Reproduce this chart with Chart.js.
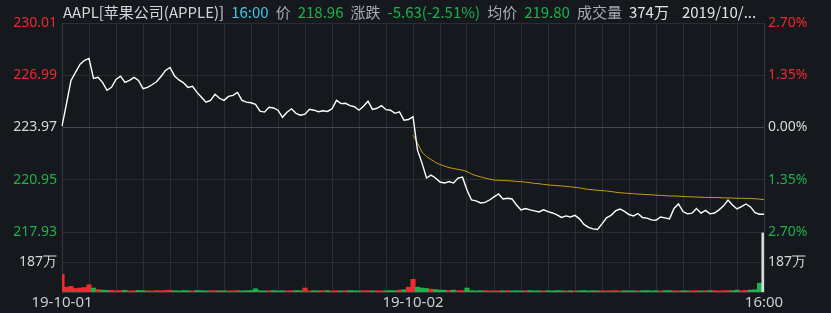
<!DOCTYPE html>
<html>
<head>
<meta charset="utf-8">
<script src="https://cdn.jsdelivr.net/npm/chart.js@4/dist/chart.umd.min.js"></script>
<style>
  html, body { margin: 0; padding: 0; background: #15181d; }
  #wrap { position: relative; width: 831px; height: 313px; }
  #head {
    position: absolute; left: 63px; top: 2px; white-space: nowrap;
    font: 15px "Noto Sans CJK SC", "Noto Sans", sans-serif; line-height: 19px; color: #d2d6da;
  }
  #head span { margin-right: 7px; }
  .g { color: #1db24a; }
  .c { color: #45c6e8; }
  .t { color: #a9adb2; }
  .w { color: #e2e4e6; }
</style>
</head>
<body>
<div id="wrap">
  <canvas id="chart" width="831" height="313"></canvas>
  <div id="head">
    <span>AAPL[苹果公司(APPLE)]</span><span class="c">16:00</span><span class="t">价</span><span class="g">218.96</span><span class="t">涨跌</span><span class="g">-5.63(-2.51%)</span><span class="t">均价</span><span class="g">219.80</span><span class="t">成交量</span><span class="w">374万</span><span class="w" style="margin-left:6px">2019/10/...</span>
  </div>
</div>
<script>
// 昨收与刻度
const prevClose = 223.97;
const priceTicks = [217.93, 220.95, 223.97, 226.99, 230.01];
const volTicks = [187];
const volMax = 374;
const xTickSlots = [0, 78, 156];
const xTickLabels = ["19-10-01", "19-10-02", "16:00"];

// 5分钟一个点，两个交易日
const price = [
  224.05, 225.35, 226.69, 227.16, 227.62, 227.85, 227.96, 226.81, 226.87, 226.58,
  226.12, 226.29, 226.75, 226.94, 226.58, 226.69, 226.87, 226.69, 226.22, 226.29,
  226.44, 226.61, 226.92, 227.27, 227.44, 226.95, 226.72, 226.55, 226.29, 226.35,
  226.00, 225.72, 225.43, 225.54, 225.89, 225.66, 225.54, 225.77, 225.83, 226.00,
  225.54, 225.44, 225.40, 225.31, 224.91, 224.86, 225.14, 225.10, 224.97, 224.56,
  224.85, 225.05, 224.79, 224.68, 224.74, 225.02, 224.97, 224.88, 224.94, 224.90,
  225.05, 225.54, 225.35, 225.37, 225.23, 225.17, 224.97, 225.20, 225.49, 225.02,
  225.08, 225.23, 225.00, 224.97, 224.79, 224.87, 224.39, 224.43, 224.59,
  222.66, 221.91, 221.05, 221.22, 221.05, 220.82, 220.76, 220.85, 220.76, 221.05,
  221.10, 220.36, 219.78, 219.73, 219.61, 219.64, 219.78, 219.96, 220.13, 219.84,
  219.88, 219.84, 219.49, 219.21, 219.29, 219.21, 219.15, 219.09, 219.21, 219.11,
  219.03, 218.92, 218.77, 218.86, 218.80, 218.89, 218.69, 218.37, 218.20, 218.11,
  218.08, 218.40, 218.75, 218.89, 219.15, 219.26, 219.12, 218.94, 218.86, 219.00,
  218.77, 218.73, 218.63, 218.61, 218.80, 218.75, 218.69, 219.29, 219.55, 219.11,
  218.98, 219.02, 219.29, 219.02, 219.18, 218.98, 219.03, 219.21, 219.44, 219.78,
  219.49, 219.26, 219.40, 219.55, 219.38, 219.05, 218.96, 218.96
];

// 均价线（只有第二天）
const avgDay2 = [
  223.53, 223.07, 222.55, 222.29, 222.12, 221.95, 221.83, 221.74, 221.65, 221.60,
  221.55, 221.50, 221.42, 221.28, 221.19, 221.12, 221.05, 220.99, 220.93, 220.92,
  220.91, 220.89, 220.88, 220.85, 220.84, 220.81, 220.78, 220.74, 220.72, 220.68,
  220.65, 220.63, 220.61, 220.59, 220.57, 220.54, 220.51, 220.48, 220.43, 220.39,
  220.37, 220.34, 220.32, 220.30, 220.27, 220.23, 220.20, 220.18, 220.16, 220.14,
  220.12, 220.11, 220.09, 220.08, 220.06, 220.05, 220.03, 220.01, 220.01, 220.00,
  219.98, 219.97, 219.96, 219.95, 219.94, 219.93, 219.93, 219.92, 219.92, 219.90,
  219.90, 219.89, 219.88, 219.88, 219.87, 219.87, 219.85, 219.83, 219.80
];

// 成交量（万）
const volume = [
  110, 30, 35, 22, 25, 28, 45, 25, 15, 12,
  10, 11, 8, 9, 11, 7, 8, 10, 9, 8,
  7, 9, 8, 10, 11, 8, 7, 9, 8, 7,
  9, 8, 7, 8, 9, 7, 8, 7, 8, 9,
  7, 8, 9, 20, 8, 7, 8, 9, 7, 8,
  7, 8, 9, 8, 25, 7, 8, 7, 8, 9,
  7, 8, 7, 8, 9, 8, 7, 8, 9, 7,
  8, 7, 8, 9, 8, 12, 14, 30,
  79, 30, 25, 22, 18, 15, 12, 11, 10, 12,
  8, 9, 25, 8, 7, 8, 9, 7, 8, 7,
  8, 9, 7, 8, 7, 8, 9, 7, 8, 7,
  8, 7, 9, 8, 7, 8, 7, 8, 9, 7,
  8, 7, 8, 7, 8, 9, 7, 8, 7, 8,
  7, 8, 9, 7, 8, 7, 8, 9, 8, 7,
  8, 7, 8, 9, 7, 8, 9, 8, 7, 8,
  9, 8, 12, 9, 10, 12, 14, 55, 368
];

const RED = "#ec2b30";
const GREEN = "#1db24a";
const WHITE = "#d6d9dc";
const GRID = "#2a2d33";
const FONT = { family: "'Noto Sans', sans-serif", size: 14 };

// 时间轴标签
const slots = price.map((p, i) => {
  const day = i < 78 ? "10-01" : "10-02";
  const m = 570 + (i < 78 ? i : i - 78) * 5;
  return day + " " + String(Math.floor(m / 60)).padStart(2, "0") + ":" + String(m % 60).padStart(2, "0");
});

const avgSeries = price.map((p, i) => (i < 78 ? null : avgDay2[i - 78]));

const volColors = volume.map((v, i) => {
  const prev = i === 0 ? prevClose : price[i - 1];
  if (price[i] > prev) return RED;
  if (price[i] < prev) return GREEN;
  return WHITE;
});

function levelColor(v) {
  if (v > prevClose + 0.001) return RED;
  if (v < prevClose - 0.001) return GREEN;
  return WHITE;
}

const ctx = document.getElementById("chart").getContext("2d");

new Chart(ctx, {
  type: "line",
  data: {
    labels: slots,
    datasets: [
      {
        label: "价格",
        data: price,
        yAxisID: "y",
        borderColor: "#ffffff",
        borderWidth: 1.4,
        pointRadius: 0,
        tension: 0,
        order: 1,
      },
      {
        label: "均价",
        data: avgSeries,
        yAxisID: "y",
        borderColor: "#c89b14",
        borderWidth: 1,
        pointRadius: 0,
        tension: 0,
        spanGaps: false,
        order: 2,
      },
      {
        type: "bar",
        label: "成交量",
        data: volume,
        yAxisID: "v",
        backgroundColor: volColors,
        barPercentage: 1,
        categoryPercentage: 1,
        order: 3,
      },
    ],
  },
  options: {
    responsive: false,
    animation: false,
    devicePixelRatio: 1,
    layout: { padding: { top: 23, left: 0, right: 0, bottom: 0 } },
    plugins: { legend: { display: false }, tooltip: { enabled: false } },
    scales: {
      x: {
        type: "category",
        offset: false,
        grid: {
          offset: false,
          drawTicks: false,
          color: (c) => (c.index % 6 === 0 ? GRID : "transparent"),
        },
        border: { color: "#34373d" },
        ticks: {
          autoSkip: false,
          maxRotation: 0,
          minRotation: 0,
          padding: 2,
          color: "#c9cdd1",
          font: { family: FONT.family, size: 15 },
          callback: (v, i) => {
            const k = xTickSlots.indexOf(i);
            return k >= 0 ? xTickLabels[k] : "";
          },
        },
        afterFit: (s) => { s.height = 21; },
      },
      y: {
        position: "left",
        stack: "L",
        stackWeight: 209,
        weight: 2,
        min: priceTicks[0],
        max: priceTicks[priceTicks.length - 1],
        afterBuildTicks: (s) => { s.ticks = priceTicks.map((v) => ({ value: v })); },
        grid: {
          drawTicks: false,
          color: (c) => (c.tick && Math.abs(c.tick.value - prevClose) < 0.001 ? "#44474c" : GRID),
        },
        border: { color: "#34373d" },
        ticks: {
          padding: 5,
          font: FONT,
          color: (c) => levelColor(c.tick.value),
          callback: (v) => v.toFixed(2),
        },
        afterFit: (s) => { s.width = 62; },
      },
      v: {
        position: "left",
        stack: "L",
        stackWeight: 60,
        weight: 1,
        min: 0,
        max: volMax,
        afterBuildTicks: (s) => { s.ticks = volTicks.map((v) => ({ value: v })); },
        grid: { drawTicks: false, color: GRID },
        border: { color: "#34373d" },
        ticks: { padding: 5, font: FONT, color: WHITE, callback: (v) => v + "万" },
        afterFit: (s) => { s.width = 62; },
      },
      yr: {
        position: "right",
        stack: "R",
        stackWeight: 209,
        weight: 1,
        min: priceTicks[0],
        max: priceTicks[priceTicks.length - 1],
        afterBuildTicks: (s) => { s.ticks = priceTicks.map((v) => ({ value: v })); },
        grid: { display: false, drawTicks: false },
        border: { color: "#34373d" },
        ticks: {
          padding: 4,
          font: FONT,
          color: (c) => levelColor(c.tick.value),
          callback: (v) => Math.abs(((v - prevClose) / prevClose) * 100).toFixed(2) + "%",
        },
        afterFit: (s) => { s.width = 67; },
      },
      vr: {
        position: "right",
        stack: "R",
        stackWeight: 60,
        weight: 2,
        min: 0,
        max: volMax,
        afterBuildTicks: (s) => { s.ticks = volTicks.map((v) => ({ value: v })); },
        grid: { display: false, drawTicks: false },
        border: { color: "#34373d" },
        ticks: { padding: 4, font: FONT, color: WHITE, callback: (v) => v + "万" },
        afterFit: (s) => { s.width = 67; },
      },
    },
  },
});
</script>
</body>
</html>
